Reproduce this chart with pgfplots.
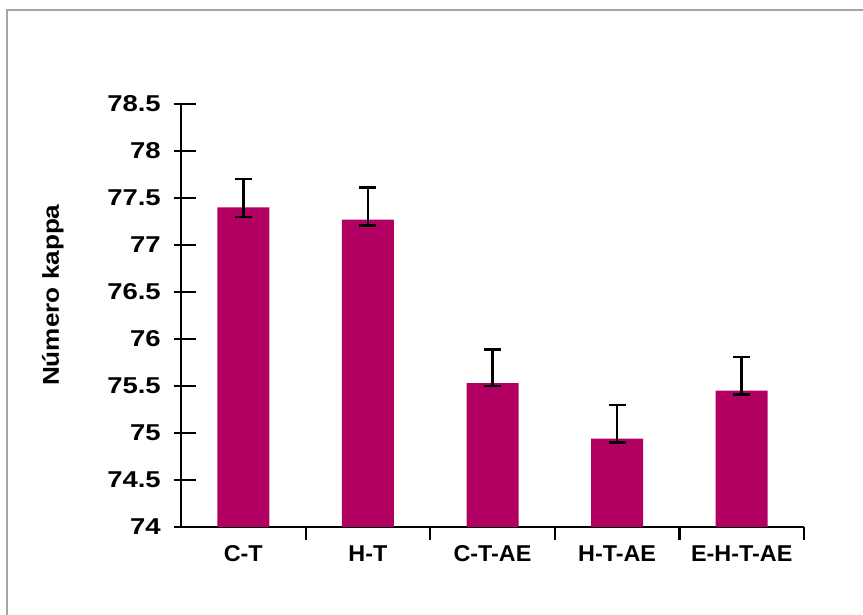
\documentclass[border=0pt]{standalone}
\usepackage{pgfplots}
\usepackage{pgfplotstable}
\pgfplotsset{compat=1.18}
\usepackage{fontspec}
\setmainfont{Liberation Sans}
\definecolor{barc}{RGB}{178,0,98}
\definecolor{framec}{RGB}{165,165,165}
\pgfplotstableread{
x y ep em
0 77.40 0.30 0.10
1 77.27 0.34 0.06
2 75.53 0.36 0.03
3 74.94 0.36 0.04
4 75.45 0.36 0.04
}\datatable
\begin{document}
\begin{tikzpicture}[x=1bp,y=1bp]
\useasboundingbox (0,0) rectangle (863,615);
\draw[framec, line width=2bp] (7,-5) -- (7,605) -- (870,605);
\begin{axis}[
  at={(181bp,88bp)}, anchor=south west,
  scale only axis, width=623bp, height=423bp,
  xmin=-0.5, xmax=4.5, ymin=74, ymax=78.5,
  axis x line*=bottom, axis y line*=left,
  axis line style={line width=2.4bp, black},
  ybar, bar width=52bp, bar shift=0pt,
  xtick={0,1,2,3,4},
  xticklabels={C-T,H-T,C-T-AE,H-T-AE,E-H-T-AE},
  minor xtick={0.5,1.5,2.5,3.5,4.5},
  major x tick style={draw=none},
  minor x tick style={line width=2.2bp, black},
  minor tick length=13bp,
  ytick={74,74.5,75,75.5,76,76.5,77,77.5,78,78.5},
  major tick length=22bp,
  tick align=outside,
  y tick style={line width=2.2bp, black, xshift=15bp},
  /pgf/number format/assume math mode=true,
  tick label style={font=\fontsize{23}{27}\selectfont\bfseries},
  yticklabel style={xscale=1.2, anchor=east, xshift=5bp},
  xticklabel style={xscale=1.02, yshift=7bp},
  ylabel={Número kappa},
  ylabel style={font=\fontsize{23}{27}\selectfont\bfseries, at={(axis description cs:-0.2055,0.548)}, anchor=center, xscale=1.14},
]
\addplot[fill=barc, draw=none,
  error bars/.cd, y dir=both, y explicit,
  error bar style={line width=2.7bp, draw=black},
  error mark options={line width=2.5bp, draw=black, mark size=8.5bp, rotate=90}]
  table[x=x, y=y, y error plus=ep, y error minus=em] {\datatable};
\end{axis}
\end{tikzpicture}
\end{document}
